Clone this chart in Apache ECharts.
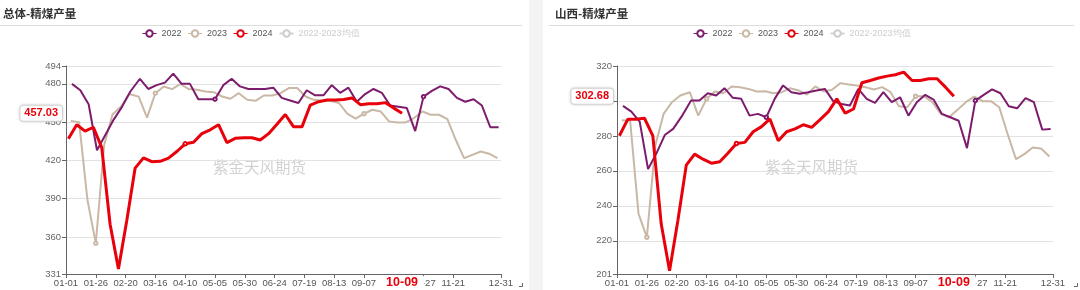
<!DOCTYPE html>
<html><head><meta charset="utf-8">
<script src="https://cdn.jsdelivr.net/npm/echarts/dist/echarts.min.js"></script>
<style>html,body{margin:0;padding:0;background:#fff}#c{width:1080px;height:290px}</style>
</head><body><div id="c"></div>
<script>
function pad(n){return (n<10?'0':'')+n;}
function mmdd(t){return pad(t.getUTCMonth()+1)+'-'+pad(t.getUTCDate());}
function weekly(y,m,d,n){const o=[];for(let i=0;i<n;i++){o.push(mmdd(new Date(Date.UTC(y,m-1,d+7*i))));}return o;}

// x categories: every day of a leap year, MM-DD
const categories=[];for(let i=0;i<366;i++){categories.push(mmdd(new Date(Date.UTC(2024,0,1+i))));}
// weekly observation dates of each year
const dates2022=weekly(2022,1,6,52);
const dates2023=weekly(2023,1,5,52);
const dates2024=weekly(2024,1,3,41);

const seriesNames=['2022','2023','2024','2022-2023均值'];

// 总体-精煤产量
const total2022=[480,475,464,428,440,452,462,474,484,476,479,481,488,480,480,468,468,468,479,484,478,476,476,476,477,469,467,465,475,471,471,479,473,477,466,472,476,473,463,462,461,443,470,474.5,478,476,469,466,468,463,446,446];
const total2023=[451,450,389,355,432,456,462,472,470,453.6,472.7,477.9,475.9,479.9,475.9,475.4,474,473.5,470.1,468.3,472.7,467.5,466.7,470.9,470.9,472.7,476.7,476.7,470.1,467.5,466.7,466.7,465,456.6,452.7,456.6,459.7,458.4,450.6,449.8,449.8,453.2,458.4,455.8,455.8,452.4,436.2,421.8,424.4,427,425.3,421.8];
const total2024=[437,448,443,446,430,370,335,373,414,422,419,419.3,421.8,427,433,434.2,441,444,448,434,437.3,437.8,437.8,436,441,448.4,456,446.3,446.3,463.4,466,467.3,467.3,467.8,469,463.7,464.5,464.5,465.3,461,457.03];

// 山西-精煤产量
const shanxi2022=[297.2,293.9,288.2,261,270,280.5,284,291,300.2,300.2,304.4,303.1,307.3,301.8,301.2,291.6,292.6,290.7,301.2,308.9,305,304.1,305,306,306.9,299.9,298.3,297.4,306.9,301.2,298.9,305,299.3,302.1,291.6,299.3,303.5,300.8,292.6,290.7,288.7,273,300.2,303.5,306.6,304.4,297,295.8,301.6,299.3,283.6,284];
const shanxi2023=[289,288.7,235.5,222,274.4,292.6,299.3,303.1,305,291.6,301.2,305.4,304.4,308.3,307.9,306.9,305.4,305.6,304.4,305,307.3,306,303.7,308.3,305.4,306.4,310.2,309.4,308.9,307.9,306.6,307.9,305,297,296.4,302.7,302.7,299.3,292.6,290.7,294.9,299.3,302.5,299.9,299.9,296.4,281.1,266.7,269.6,273.4,272.8,268.2];
const shanxi2024=[280.1,289.5,289.5,290.1,280,229.7,202.9,231.7,263.3,269.6,266.7,264.4,265.2,270.2,275.7,276.3,282.4,285.3,289.7,277.2,282.4,284,286.4,284.9,289.3,293.9,301.2,293,295.4,310.4,311.7,313.1,314.2,315,316.5,311.7,311.7,312.7,312.7,307.9,302.68];

const yRanges=[[331,494],[201,320]];
const titles=['总体-精煤产量','山西-精煤产量'];

const C22='#7d1b6c',C23='#c9b8a5',C24='#e8000b';
function pairs(d,v){return v.map((x,i)=>[d[i],x]);}
function labelInt(i){return ((i%25===0&&i<=325)||i===365)&&i!==275;}

const panels=[
 {d:[total2022,total2023,total2024],grid:{left:66,right:579,top:66,bottom:16},title:3,legend:142},
 {d:[shanxi2022,shanxi2023,shanxi2024],grid:{left:617,right:27,top:66,bottom:16},title:555,legend:693}
];

const grid=[],xAxis=[],yAxis=[],series=[],legend=[],title=[];
panels.forEach((p,k)=>{
  grid.push(p.grid);
  const last=p.d[2][p.d[2].length-1];
  const lastDate=dates2024[dates2024.length-1];
  title.push({text:titles[k],left:p.title,top:8,padding:0,textStyle:{fontSize:11.5,fontWeight:'bold',color:'#333',fontFamily:'Noto Sans CJK SC'}});
  legend.push({left:p.legend,top:29,padding:0,itemWidth:14,itemHeight:8,itemGap:6,
    itemStyle:{borderWidth:1},lineStyle:{width:1},
    textStyle:{fontSize:9,color:'#555',fontFamily:'Liberation Sans'},inactiveColor:'#ccc',
    selected:{'2022-2023均值':false},data:seriesNames});
  xAxis.push({type:'category',gridIndex:k,data:categories,boundaryGap:false,
    axisLine:{show:true,lineStyle:{color:'#666'}},
    axisTick:{show:true,interval:labelInt,length:4,lineStyle:{color:'#666'}},
    axisLabel:{interval:labelInt,color:'#555',fontSize:9.5,margin:4,fontFamily:'Liberation Sans',hideOverlap:false},
    splitLine:{show:false},
    axisPointer:{show:true,type:'line',value:lastDate,status:'show',snap:false,triggerTooltip:false,
      lineStyle:{opacity:0},
      label:{show:true,formatter:()=>lastDate,color:C24,fontWeight:'bold',fontSize:12.5,fontFamily:'Liberation Sans',
        backgroundColor:'#fff',padding:[1,6],margin:3,borderWidth:0,shadowBlur:0}}});
  yAxis.push({type:'value',gridIndex:k,min:yRanges[k][0],max:yRanges[k][1],
    axisLine:{show:true,lineStyle:{color:'#666'}},
    axisTick:{show:true,length:4,lineStyle:{color:'#666'}},
    axisLabel:{color:'#666',fontSize:9.5,margin:5,fontFamily:'Liberation Sans',showMinLabel:true,showMaxLabel:true},
    splitLine:{show:true,lineStyle:{color:'#e2e2e2'}},
    axisPointer:{show:true,type:'line',value:last,status:'show',snap:false,triggerTooltip:false,
      lineStyle:{opacity:0},
      label:{show:true,formatter:()=>last.toFixed(2),color:C24,fontWeight:'bold',fontSize:11,fontFamily:'Liberation Sans',
        backgroundColor:'#fff',padding:[2,4],margin:4,borderColor:'#ddd',borderWidth:1,
        shadowBlur:3,shadowColor:'rgba(0,0,0,0.15)'}}});
  const common={type:'line',xAxisIndex:k,yAxisIndex:k,symbol:'emptyCircle',symbolSize:3.5,showAllSymbol:'auto',animation:false};
  series.push(Object.assign({},common,{name:'2022',data:pairs(dates2022,p.d[0]),itemStyle:{color:C22,borderWidth:1},lineStyle:{width:2,color:C22},z:3}));
  series.push(Object.assign({},common,{name:'2023',data:pairs(dates2023,p.d[1]),itemStyle:{color:C23,borderWidth:1},lineStyle:{width:2,color:C23},z:2}));
  series.push(Object.assign({},common,{name:'2024',data:pairs(dates2024,p.d[2]),itemStyle:{color:C24,borderWidth:1},lineStyle:{width:3,color:C24},z:4}));
  series.push(Object.assign({},common,{name:'2022-2023均值',data:[],itemStyle:{color:'#bbb',borderWidth:1},lineStyle:{width:2,color:'#bbb'}}));
});

const chart=echarts.init(document.getElementById('c'),null,{renderer:'canvas'});
chart.setOption({
  animation:false,backgroundColor:'#fff',
  title,legend,grid,xAxis,yAxis,series,
  axisPointer:{triggerOn:'none'},
  graphic:[
    {type:'rect',shape:{x:529,y:0,width:14,height:290},style:{fill:'#f3f3f3'},silent:true},
    {type:'line',shape:{x1:0,y1:25.5,x2:522,y2:25.5},style:{stroke:'#dcdcdc',lineWidth:1},silent:true},
    {type:'line',shape:{x1:549,y1:25.5,x2:1074,y2:25.5},style:{stroke:'#dcdcdc',lineWidth:1},silent:true},
    {type:'polyline',shape:{points:[[519,286.5],[522.5,286.5],[522.5,283]]},style:{stroke:'#666',lineWidth:1,fill:null},silent:true},
    {type:'polyline',shape:{points:[[1074,286.5],[1077.5,286.5],[1077.5,283]]},style:{stroke:'#666',lineWidth:1,fill:null},silent:true},
    {type:'text',left:213,top:159,style:{text:'紫金天风期货',fontSize:15.5,fill:'#d2d2d2',fontFamily:'Noto Sans CJK SC'},silent:true,z:0},
    {type:'text',left:765,top:159,style:{text:'紫金天风期货',fontSize:15.5,fill:'#d2d2d2',fontFamily:'Noto Sans CJK SC'},silent:true,z:0}
  ]
});
</script>
</body></html>
